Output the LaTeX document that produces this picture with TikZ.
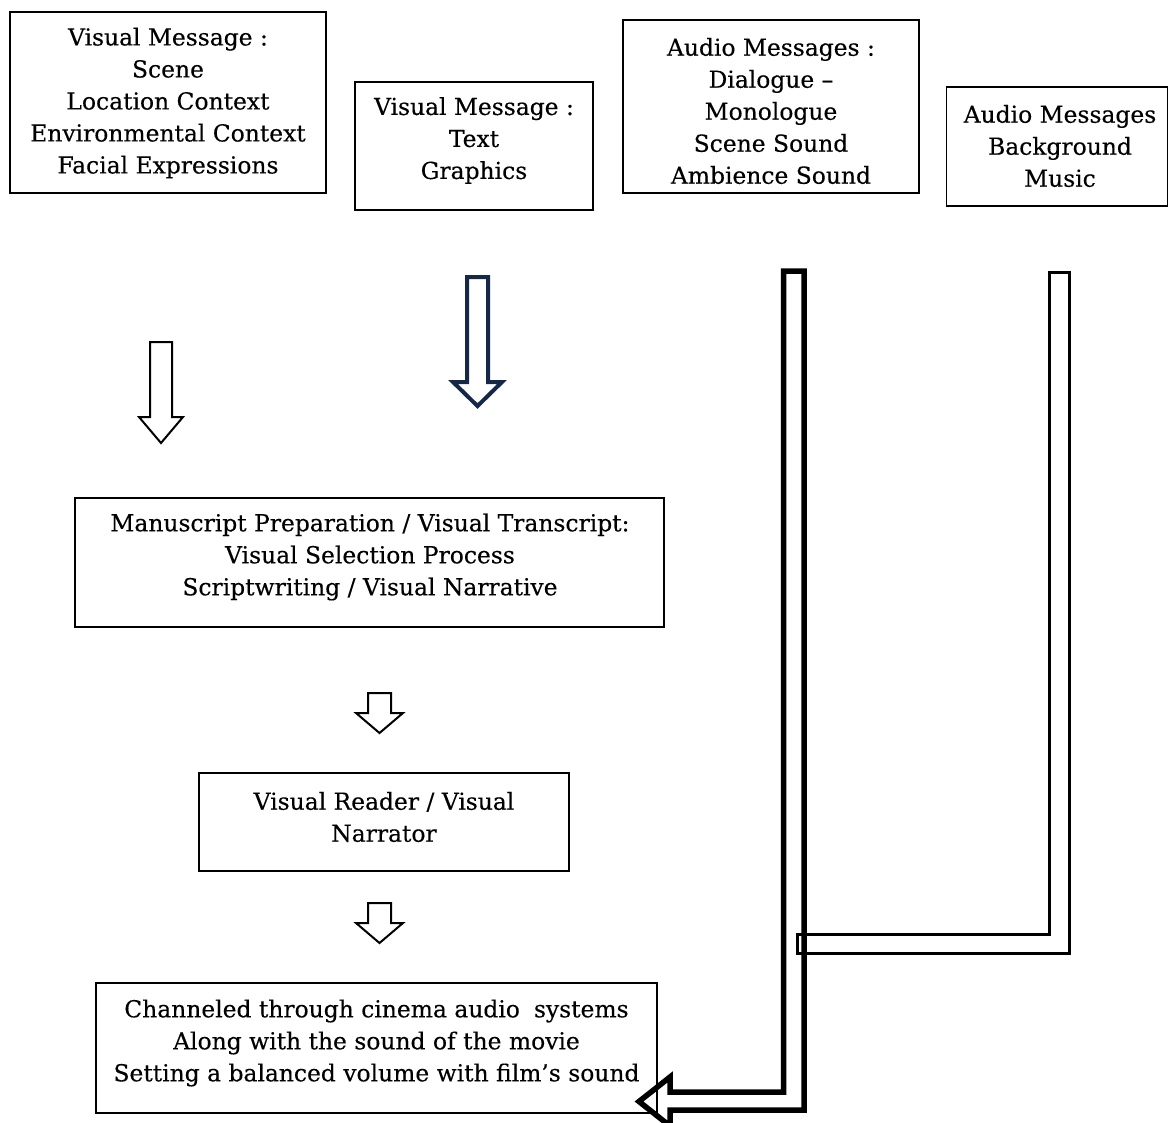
\documentclass[tikz,border=0pt]{standalone}
\usepackage{fontspec}
\setmainfont[FakeBold=0.3]{DejaVu Serif}
\definecolor{navy}{RGB}{22,40,72}
\begin{document}
\begin{tikzpicture}[x=1pt,y=-1pt,
  box/.style={draw=black, line width=1.2pt, rectangle, inner sep=0pt},
  txt/.style={align=center, font=\fontsize{23.4}{32}\selectfont, inner sep=0pt},
  thinarrow/.style={draw=black, line width=2pt, line join=miter},
  navyarrow/.style={draw=navy, line width=4pt, line join=miter},
  bigarrow/.style={draw=black, line width=5.5pt, line join=miter},
  linkarrow/.style={draw=black, line width=3pt, line join=miter}]
\useasboundingbox (0,0) rectangle (1169,1122);
\fill[white] (0,0) rectangle (1169,1122);
% boxes
\node[box, minimum width=316pt, minimum height=181pt] (bA) at (168,102.5) {};
\node[txt] (tA) at (168,103) {Visual Message :\\Scene\\Location Context\\Environmental Context\\Facial Expressions};
\node[box, minimum width=238pt, minimum height=128pt] (bB) at (474,146) {};
\node[txt] (tB) at (474,140.5) {Visual Message :\\Text\\Graphics};
\node[box, minimum width=296pt, minimum height=173pt] (bC) at (771,106.5) {};
\node[txt] (tC) at (771,111) {Audio Messages :\\Dialogue –\\Monologue\\Scene Sound\\Ambience Sound};
\node[box, minimum width=221pt, minimum height=119pt] (bD) at (1057,146.5) {};
\node[txt] (tD) at (1060,146) {Audio Messages\\Background\\Music};
\node[box, minimum width=589pt, minimum height=129pt] (bE) at (369.5,562.5) {};
\node[txt] (tE) at (370,557) {Manuscript Preparation / Visual Transcript:\\Visual Selection Process\\Scriptwriting / Visual Narrative};
\node[box, minimum width=370pt, minimum height=98pt] (bF) at (384,822) {};
\node[txt] (tF) at (384,817) {Visual Reader / Visual\\Narrator};
\node[box, minimum width=561pt, minimum height=130pt] (bG) at (376.5,1048) {};
\node[txt] (tG) at (376.5,1043) {Channeled through cinema audio\hspace{0.6em}systems\\Along with the sound of the movie\\Setting a balanced volume with film’s sound};
% block arrows
\draw[thinarrow] (150,342)--(172,342)--(172,417)--(183,417)--(161,443)--(139,417)--(150,417)--cycle;
\draw[navyarrow] (467,277)--(488,277)--(488,382)--(502,382)--(477.5,406)--(453,382)--(467,382)--cycle;
\draw[thinarrow] (368,693)--(391,693)--(391,713)--(403,713)--(379.5,733)--(356,713)--(368,713)--cycle;
\draw[thinarrow] (368,903)--(391,903)--(391,923)--(403,923)--(379.5,943)--(356,923)--(368,923)--cycle;
% connector from background music
\draw[linkarrow] (1049.5,272)--(1069.5,272)--(1069.5,953)--(797,953)--(797,934)--(1049.5,934)--cycle;
% big L arrow
\draw[bigarrow] (783.5,271)--(804,271)--(804,1110)--(670,1110)--(670,1126)--(639,1101.5)--(670,1077)--(670,1092)--(783.5,1092)--cycle;
\end{tikzpicture}
\end{document}
